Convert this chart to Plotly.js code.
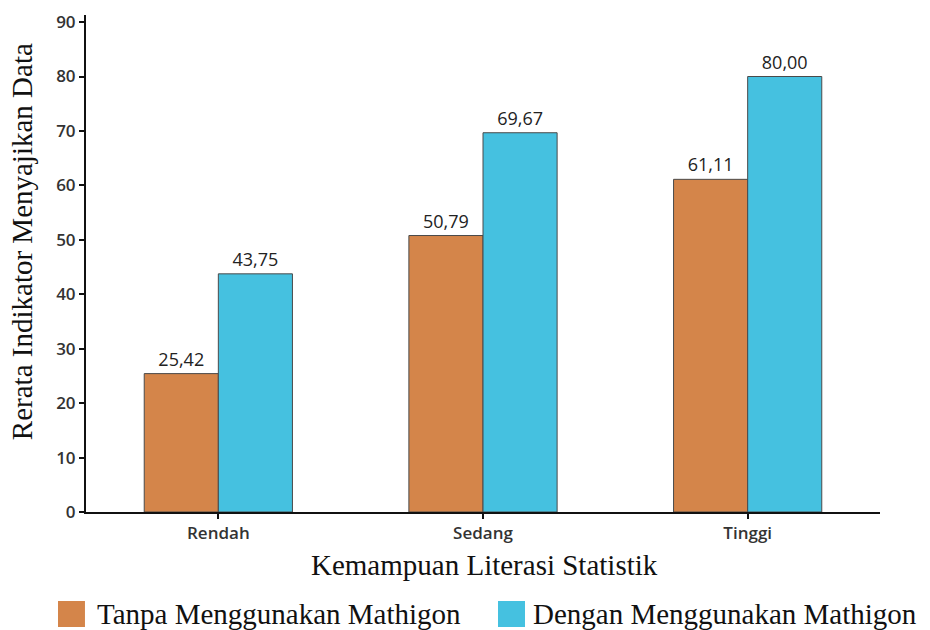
<!DOCTYPE html>
<html>
<head>
<meta charset="utf-8">
<script src="https://cdn.plot.ly/plotly-3.0.1.min.js"></script>
<style>html,body{margin:0;padding:0;background:#fff;}#chart{width:930px;height:630px;}</style>
</head>
<body>
<div id="chart"></div>
<script>
const categories = ["Rendah", "Sedang", "Tinggi"];
const seriesNames = ["Tanpa Menggunakan Mathigon", "Dengan Menggunakan Mathigon"];
const seriesColors = ["#D4854A", "#45C1E0"];
const tanpaValues = [25.42, 50.79, 61.11];
const denganValues = [43.75, 69.67, 80.00];
const yTickValues = [0, 10, 20, 30, 40, 50, 60, 70, 80, 90];
const xTitle = "Kemampuan Literasi Statistik";
const yTitle = "Rerata Indikator Menyajikan Data";

function fmt(v) { return v.toFixed(2).replace(".", ","); }

const labelFont = {family: "Open Sans, sans-serif", size: 18, color: "#222"};
const serifFont = {family: "Liberation Serif, serif", size: 29, color: "#111"};
const legendFont = {family: "Liberation Serif, serif", size: 29, color: "#111"};

const traces = [
  {
    type: "bar", name: seriesNames[0], x: categories, y: tanpaValues,
    text: tanpaValues.map(fmt), textposition: "outside", cliponaxis: false,
    textfont: labelFont,
    marker: {color: seriesColors[0], line: {color: "#4a4a4a", width: 1}},
    hoverinfo: "none"
  },
  {
    type: "bar", name: seriesNames[1], x: categories, y: denganValues,
    text: denganValues.map(fmt), textposition: "outside", cliponaxis: false,
    textfont: labelFont,
    marker: {color: seriesColors[1], line: {color: "#4a4a4a", width: 1}},
    hoverinfo: "none"
  }
];

// custom legend (paper coordinates)
const legendSquares = [
  {x0: -0.0353, x1: -0.0013, textX: 0.0113},
  {x0: 0.5189, x1: 0.5529, textX: 0.561}
];
const shapes = legendSquares.map((s, i) => ({
  type: "rect", xref: "paper", yref: "paper",
  x0: s.x0, x1: s.x1, y0: -0.2314, y1: -0.1791,
  fillcolor: seriesColors[i], line: {width: 0}
}));
const annotations = legendSquares.map((s, i) => ({
  xref: "paper", yref: "paper", x: s.textX, y: -0.2052,
  xanchor: "left", yanchor: "middle", showarrow: false,
  text: seriesNames[i], font: legendFont
}));
annotations.push({
  xref: "paper", yref: "paper", x: 0.5025, y: -0.1066,
  xanchor: "center", yanchor: "middle", showarrow: false,
  text: xTitle, font: serifFont
});
annotations.push({
  xref: "paper", yref: "paper", x: -0.0806, y: 0.543,
  xanchor: "center", yanchor: "middle", showarrow: false, textangle: -90,
  text: yTitle, font: serifFont
});

const layout = {
  width: 930, height: 630,
  margin: {l: 86, r: 50, t: 15, b: 118, autoexpand: false},
  paper_bgcolor: "#fff", plot_bgcolor: "#fff",
  barmode: "group", bargap: 0.44, bargroupgap: 0,
  showlegend: false,
  shapes: shapes,
  annotations: annotations,
  xaxis: {
    type: "category", range: [-0.5, 2.5], automargin: false,
    showline: true, linecolor: "#111", linewidth: 2,
    ticks: "outside", ticklen: 5, tickwidth: 2, tickcolor: "#111",
    showgrid: false, zeroline: false,
    tickfont: {family: "Open Sans, sans-serif", size: 17, color: "#333", weight: 600}
  },
  yaxis: {
    range: [0, 91.3], tickvals: yTickValues, automargin: false,
    showline: true, linecolor: "#111", linewidth: 2,
    ticks: "outside", ticklen: 5, tickwidth: 2, tickcolor: "#111",
    showgrid: false, zeroline: false,
    tickfont: {family: "Open Sans, sans-serif", size: 17, color: "#333", weight: 600}
  }
};

Plotly.newPlot("chart", traces, layout, {staticPlot: true, displayModeBar: false});
</script>
</body>
</html>
